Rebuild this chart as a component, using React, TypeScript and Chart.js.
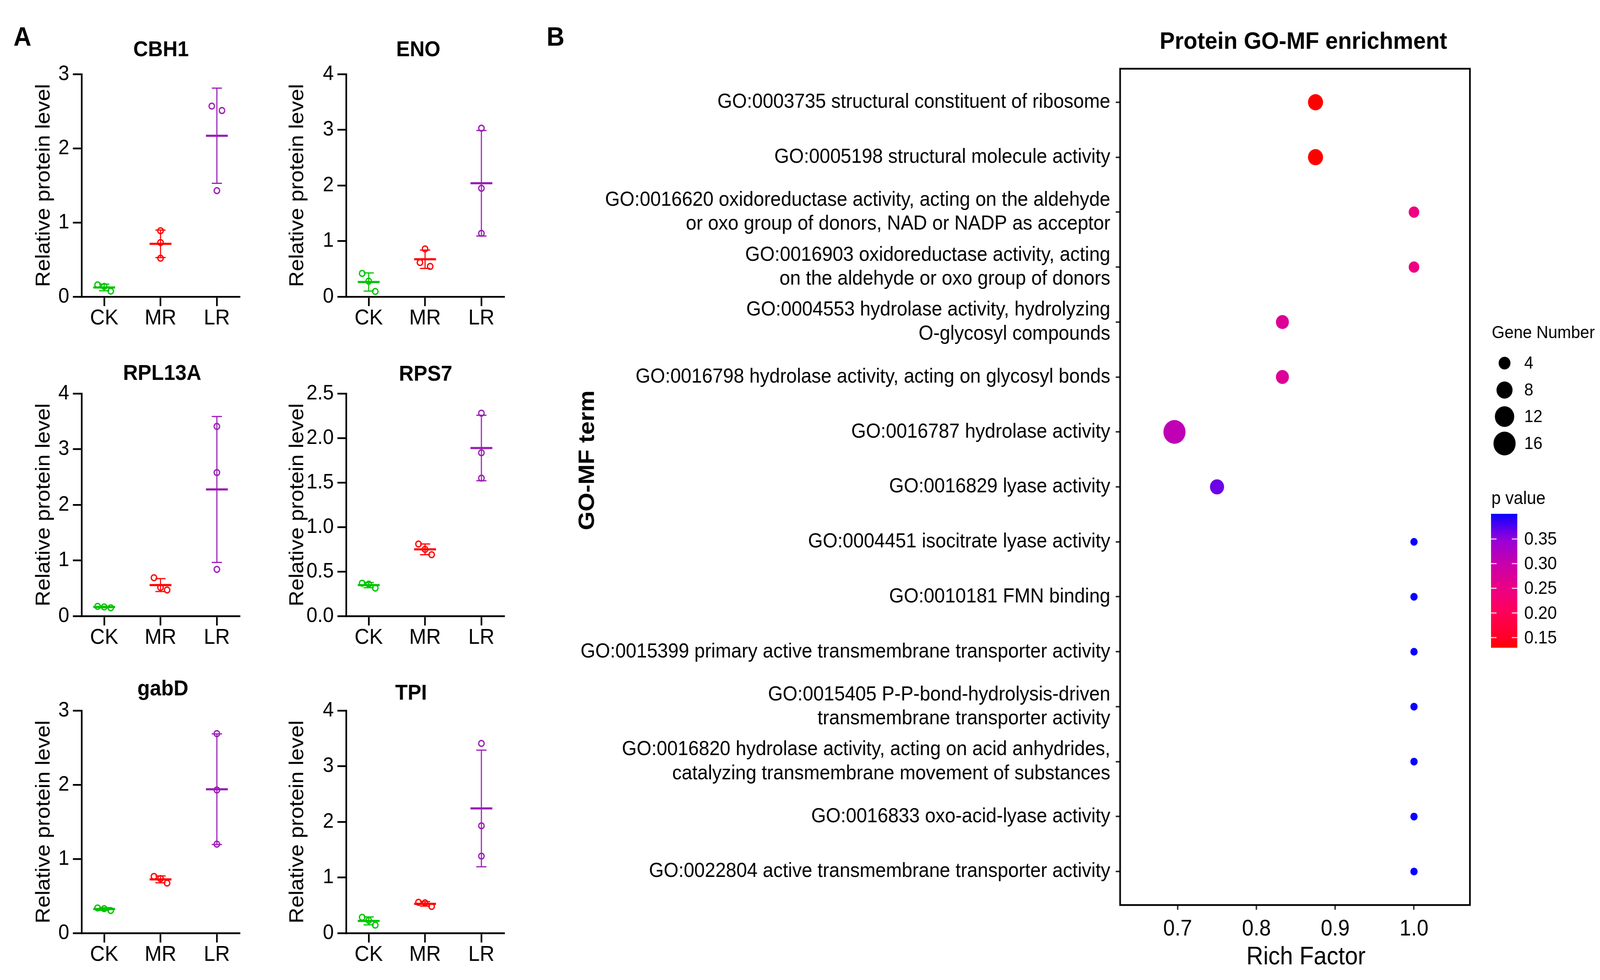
import React, { useEffect, useRef } from 'react';
import { Chart, registerables } from 'chart.js';

Chart.register(...registerables);

const FONT = '"Liberation Sans", Arial, Helvetica, sans-serif';
Chart.defaults.font.family = FONT;
Chart.defaults.color = '#000';

// ---------- panel A data ----------
const groups = ['CK', 'MR', 'LR'];
const groupColors = ['#00C400', '#FF0000', '#9A1DB5'];
const proteins = ['CBH1', 'ENO', 'RPL13A', 'RPS7', 'gabD', 'TPI'];

// three replicates per group (CK, MR, LR)
const cbh1Values = [[0.16, 0.14, 0.075], [0.89, 0.73, 0.52], [2.57, 2.51, 1.43]];
const enoValues = [[0.42, 0.28, 0.095], [0.86, 0.615, 0.545], [3.03, 1.95, 1.14]];
const rpl13aValues = [[0.175, 0.165, 0.15], [0.69, 0.515, 0.47], [3.41, 2.58, 0.84]];
const rps7Values = [[0.37, 0.36, 0.315], [0.81, 0.75, 0.69], [2.28, 1.835, 1.55]];
const gabdValues = [[0.34, 0.33, 0.305], [0.765, 0.735, 0.675], [2.69, 1.93, 1.2]];
const tpiValues = [[0.285, 0.23, 0.145], [0.555, 0.545, 0.48], [3.41, 1.93, 1.385]];
const proteinValues = [cbh1Values, enoValues, rpl13aValues, rps7Values, gabdValues, tpiValues];

const yAxisMax = [3, 4, 4, 2.5, 3, 4];
const yAxisStep = [1, 1, 1, 0.5, 1, 1];

// ---------- panel B data ----------
const goTerms = [
  ['GO:0003735 structural constituent of ribosome'],
  ['GO:0005198 structural molecule activity'],
  ['GO:0016620 oxidoreductase activity, acting on the aldehyde', 'or oxo group of donors, NAD or NADP as acceptor'],
  ['GO:0016903 oxidoreductase activity, acting', 'on the aldehyde or oxo group of donors'],
  ['GO:0004553 hydrolase activity, hydrolyzing', 'O-glycosyl compounds'],
  ['GO:0016798 hydrolase activity, acting on glycosyl bonds'],
  ['GO:0016787 hydrolase activity'],
  ['GO:0016829 lyase activity'],
  ['GO:0004451 isocitrate lyase activity'],
  ['GO:0010181 FMN binding'],
  ['GO:0015399 primary active transmembrane transporter activity'],
  ['GO:0015405 P-P-bond-hydrolysis-driven', 'transmembrane transporter activity'],
  ['GO:0016820 hydrolase activity, acting on acid anhydrides,', 'catalyzing transmembrane movement of substances'],
  ['GO:0016833 oxo-acid-lyase activity'],
  ['GO:0022804 active transmembrane transporter activity'],
];
const richFactor = [0.875, 0.875, 1, 1, 0.833, 0.833, 0.696, 0.75, 1, 1, 1, 1, 1, 1, 1];
const geneNumber = [7, 7, 3, 3, 5, 5, 16, 6, 1, 1, 1, 1, 1, 1, 1];
const pValue = [0.1295, 0.1295, 0.245, 0.245, 0.272, 0.272, 0.308, 0.365, 0.401, 0.401, 0.401, 0.401, 0.401, 0.401, 0.401];
const richTicks = [0.7, 0.8, 0.9, 1.0];
const geneBreaks = [4, 8, 12, 16];
const pBreaks = [0.15, 0.2, 0.25, 0.3, 0.35];

// colour ramp of the p value bar (red -> pink -> purple -> blue)
const rampStops: { p: number; rgb: number[] }[] = [
  { p: 0.1295, rgb: [255, 0, 0] },
  { p: 0.15, rgb: [255, 0, 40] },
  { p: 0.2, rgb: [255, 0, 88] },
  { p: 0.25, rgb: [236, 0, 132] },
  { p: 0.3, rgb: [200, 0, 172] },
  { p: 0.35, rgb: [150, 0, 220] },
  { p: 0.401, rgb: [10, 0, 255] },
];

// ---------- layout (reference pixels) ----------
const PAGE_W = 4391;
const PAGE_H = 2510;
const AREA_W = 433;
const AREA_H = 570;
const Y_AXIS_W = 230;
const X_AXIS_H = 110;
const PAD_TOP = 120;
const PAD_RIGHT = 30;
const X_MIN = 0.6;
const X_MAX = 3.4;

const plotLayout = [
  { left: 224, top: 190, titleX: 442, titleY: 129, yTitleGap: 103 },
  { left: 950, top: 190, titleX: 1148, titleY: 129, yTitleGap: 133 },
  { left: 224, top: 1008, titleX: 445, titleY: 958, yTitleGap: 103 },
  { left: 950, top: 1008, titleX: 1168, titleY: 960, yTitleGap: 133 },
  { left: 224, top: 1820, titleX: 447, titleY: 1766, yTitleGap: 103 },
  { left: 950, top: 1820, titleX: 1128, titleY: 1777, yTitleGap: 133 },
];

const B_LEFT = 1480;
const B_W = PAGE_W - B_LEFT;
const B_H = PAGE_H;
const B_AREA = { left: 3074, right: 4034, top: 176, bottom: 2318 };

// ---------- helpers ----------
function mean(v: number[]) {
  return v.reduce((a, b) => a + b, 0) / v.length;
}
function sd(v: number[]) {
  const m = mean(v);
  return Math.sqrt(v.reduce((a, b) => a + (b - m) * (b - m), 0) / (v.length - 1));
}

// spread overlapping replicates sideways like a column scatter
function spreadOffsets(vals: number[], pxPerUnit: number): number[] {
  const order = vals.map((_, i) => i).sort((a, b) => vals[b] - vals[a]);
  const offsets = new Array(vals.length).fill(0);
  let cluster: number[] = [];
  const flush = () => {
    const step = cluster.length === 2 ? 28 : 18;
    cluster.forEach((idx, k) => {
      offsets[idx] = (k - (cluster.length - 1) / 2) * step;
    });
    cluster = [];
  };
  order.forEach((idx, k) => {
    if (k > 0 && (vals[order[k - 1]] - vals[idx]) * pxPerUnit >= 30) flush();
    cluster.push(idx);
  });
  flush();
  return offsets;
}

function pColor(p: number) {
  const first = rampStops[0];
  const last = rampStops[rampStops.length - 1];
  if (p <= first.p) return `rgb(${first.rgb.join(',')})`;
  if (p >= last.p) return `rgb(${last.rgb.join(',')})`;
  for (let i = 1; i < rampStops.length; i++) {
    const a = rampStops[i - 1];
    const b = rampStops[i];
    if (p <= b.p) {
      const t = (p - a.p) / (b.p - a.p);
      const c = a.rgb.map((v, k) => Math.round(v + (b.rgb[k] - v) * t));
      return `rgb(${c.join(',')})`;
    }
  }
  return `rgb(${last.rgb.join(',')})`;
}
const P_MIN = Math.min(...pValue);
const P_MAX = Math.max(...pValue);

function geneRadius(n: number) {
  return Math.sqrt(45 + 55 * n);
}

// ---------- panel A: one scatter per protein ----------
function ProteinPlot({ index }: { index: number }) {
  const chartRef = useRef<HTMLCanvasElement>(null);
  const layout = plotLayout[index];
  const width = Y_AXIS_W + AREA_W + PAD_RIGHT;
  const height = PAD_TOP + AREA_H + X_AXIS_H;
  const canvasLeft = layout.left - Y_AXIS_W;
  const canvasTop = layout.top - PAD_TOP;

  useEffect(() => {
    if (!chartRef.current) return;
    const values = proteinValues[index];
    const yMax = yAxisMax[index];
    const step = yAxisStep[index];
    const pxPerUnit = AREA_H / yMax;
    const xUnitPx = AREA_W / (X_MAX - X_MIN);

    const datasets = values.map((vals, g) => {
      const offs = spreadOffsets(vals, pxPerUnit);
      return {
        label: groups[g],
        data: vals.map((v, k) => ({ x: g + 1 + offs[k] / xUnitPx, y: v })),
        borderColor: groupColors[g],
        backgroundColor: 'rgba(0,0,0,0)',
        pointRadius: 7.5,
        pointHoverRadius: 7.5,
        pointBorderWidth: 3.5,
        showLine: false,
        clip: false as const,
      };
    });

    const meanSdPlugin = {
      id: 'meanSd',
      beforeDatasetsDraw(chart: any) {
        const { ctx, scales } = chart;
        const xs = scales.x;
        const ys = scales.y;
        values.forEach((vals, g) => {
          const m = mean(vals);
          const s = sd(vals);
          const cx = xs.getPixelForValue(g + 1);
          const yTop = ys.getPixelForValue(m + s);
          const yBot = ys.getPixelForValue(m - s);
          const yMean = ys.getPixelForValue(m);
          ctx.save();
          ctx.strokeStyle = groupColors[g];
          ctx.lineWidth = 3;
          ctx.beginPath();
          ctx.moveTo(cx, yTop);
          ctx.lineTo(cx, yBot);
          ctx.moveTo(cx - 14, yTop);
          ctx.lineTo(cx + 14, yTop);
          ctx.moveTo(cx - 14, yBot);
          ctx.lineTo(cx + 14, yBot);
          ctx.stroke();
          ctx.lineWidth = 5.5;
          ctx.beginPath();
          ctx.moveTo(cx - 30, yMean);
          ctx.lineTo(cx + 30, yMean);
          ctx.stroke();
          ctx.restore();
        });
      },
    };

    const titlePlugin = {
      id: 'proteinTitle',
      afterDraw(chart: any) {
        const { ctx } = chart;
        ctx.save();
        ctx.font = `bold 56px ${FONT}`;
        ctx.fillStyle = '#000';
        ctx.textAlign = 'center';
        ctx.textBaseline = 'middle';
        ctx.fillText(proteins[index], layout.titleX - canvasLeft, layout.titleY - canvasTop);
        ctx.restore();
      },
    };

    const axisLine = { display: true, color: '#000', width: 4.5 };
    const tickGrid = {
      display: true,
      drawOnChartArea: false,
      drawTicks: true,
      tickLength: 24,
      color: '#000',
      lineWidth: 4.5,
    };

    const chart = new Chart(chartRef.current, {
      type: 'scatter',
      data: { datasets },
      options: {
        animation: false,
        responsive: false,
        events: [],
        layout: { padding: { left: 0, top: PAD_TOP, right: PAD_RIGHT, bottom: 0 } },
        plugins: {
          legend: { display: false },
          tooltip: { enabled: false },
          title: { display: false },
        },
        scales: {
          x: {
            type: 'linear',
            min: X_MIN,
            max: X_MAX,
            afterBuildTicks: (axis: any) => {
              axis.ticks = groups.map((_, i) => ({ value: i + 1 }));
            },
            afterFit: (axis: any) => {
              axis.height = X_AXIS_H;
            },
            ticks: {
              callback: (v: any) => groups[Math.round(Number(v)) - 1],
              font: { family: FONT, size: 56, lineHeight: 1 },
              color: '#000',
              padding: 4,
              maxRotation: 0,
              autoSkip: false,
            },
            grid: tickGrid,
            border: axisLine,
          },
          y: {
            type: 'linear',
            min: 0,
            max: yMax,
            afterFit: (axis: any) => {
              axis.width = Y_AXIS_W;
            },
            ticks: {
              stepSize: step,
              callback: (v: any) => (step < 1 ? Number(v).toFixed(1) : String(v)),
              font: { family: FONT, size: 54, lineHeight: 1.2 },
              color: '#000',
              padding: 10,
            },
            grid: tickGrid,
            border: axisLine,
            title: {
              display: true,
              text: 'Relative protein level',
              color: '#000',
              font: { family: FONT, size: 56, lineHeight: 1.2 },
              padding: { top: Y_AXIS_W - layout.yTitleGap - 33.6, bottom: 0 },
            },
          },
        },
      } as any,
      plugins: [meanSdPlugin, titlePlugin],
    });
    return () => {
      chart.destroy();
    };
  }, [index]);

  return (
    <div style={{ position: 'absolute', left: canvasLeft, top: canvasTop, width, height }}>
      <canvas ref={chartRef} width={width} height={height}></canvas>
    </div>
  );
}

// ---------- panel B: GO-MF bubble plot ----------
function EnrichmentPlot() {
  const chartRef = useRef<HTMLCanvasElement>(null);

  useEffect(() => {
    if (!chartRef.current) return;

    const decorPlugin = {
      id: 'enrichDecor',
      afterDraw(chart: any) {
        const { ctx, chartArea } = chart;
        ctx.save();
        // panel border
        ctx.strokeStyle = '#000';
        ctx.lineWidth = 4.5;
        ctx.strokeRect(chartArea.left, chartArea.top, chartArea.right - chartArea.left, chartArea.bottom - chartArea.top);

        ctx.fillStyle = '#000';
        // main title
        ctx.font = `bold 62px ${FONT}`;
        ctx.textAlign = 'center';
        ctx.textBaseline = 'middle';
        ctx.fillText('Protein GO-MF enrichment', 3577 - B_LEFT, 108);
        // x title
        ctx.font = `64px ${FONT}`;
        ctx.fillText('Rich Factor', 3584 - B_LEFT, 2452);
        // y title
        ctx.save();
        ctx.translate(1630 - B_LEFT, 1179);
        ctx.rotate(-Math.PI / 2);
        ctx.font = `bold 62px ${FONT}`;
        ctx.textAlign = 'center';
        ctx.textBaseline = 'alphabetic';
        ctx.fillText('GO-MF term', 0, 0);
        ctx.restore();

        // size legend
        ctx.textAlign = 'left';
        ctx.textBaseline = 'middle';
        ctx.font = `45px ${FONT}`;
        ctx.fillText('Gene Number', 4094 - B_LEFT, 854);
        const sizeRows = [930, 999, 1067, 1136];
        geneBreaks.forEach((n, i) => {
          ctx.beginPath();
          ctx.arc(4129 - B_LEFT, sizeRows[i], geneRadius(n), 0, Math.PI * 2);
          ctx.fill();
          ctx.fillText(String(n), 4183 - B_LEFT, sizeRows[i] + 2);
        });

        // colour bar
        ctx.font = `46px ${FONT}`;
        ctx.fillText('p value', 4093 - B_LEFT, 1278);
        const barX = 4092 - B_LEFT;
        const barW = 72;
        const barTop = 1316;
        const barBottom = 1659;
        const grad = ctx.createLinearGradient(0, barBottom, 0, barTop);
        for (let k = 0; k <= 40; k++) {
          grad.addColorStop(k / 40, pColor(P_MIN + (P_MAX - P_MIN) * (k / 40)));
        }
        ctx.fillStyle = grad;
        ctx.fillRect(barX, barTop, barW, barBottom - barTop);
        ctx.fillStyle = '#000';
        pBreaks.forEach((p) => {
          const y = barBottom - ((p - P_MIN) / (P_MAX - P_MIN)) * (barBottom - barTop);
          ctx.strokeStyle = 'rgba(255,255,255,0.9)';
          ctx.lineWidth = 2.5;
          ctx.beginPath();
          ctx.moveTo(barX, y);
          ctx.lineTo(barX + 15, y);
          ctx.moveTo(barX + barW - 15, y);
          ctx.lineTo(barX + barW, y);
          ctx.stroke();
          ctx.fillText(p.toFixed(2), 4183 - B_LEFT, y + 2);
        });
        ctx.restore();
      },
    };

    const tickGrid = {
      display: true,
      drawOnChartArea: false,
      drawTicks: true,
      tickLength: 12,
      color: '#333',
      lineWidth: 4,
    };

    const chart = new Chart(chartRef.current, {
      type: 'scatter',
      data: {
        datasets: [
          {
            label: 'GO-MF',
            data: richFactor.map((x, i) => ({ x, y: i + 1 })),
            pointRadius: geneNumber.map(geneRadius),
            pointHoverRadius: geneNumber.map(geneRadius),
            pointBackgroundColor: pValue.map(pColor),
            pointBorderWidth: 0,
            showLine: false,
          },
        ],
      },
      options: {
        animation: false,
        responsive: false,
        events: [],
        layout: {
          padding: {
            left: 0,
            top: B_AREA.top,
            right: B_W - (B_AREA.right - B_LEFT),
            bottom: 0,
          },
        },
        plugins: {
          legend: { display: false },
          tooltip: { enabled: false },
          title: { display: false },
        },
        scales: {
          x: {
            type: 'linear',
            min: 0.627,
            max: 1.071,
            afterBuildTicks: (axis: any) => {
              axis.ticks = richTicks.map((v) => ({ value: v }));
            },
            afterFit: (axis: any) => {
              axis.height = B_H - B_AREA.bottom;
            },
            ticks: {
              callback: (v: any) => Number(v).toFixed(1),
              font: { family: FONT, size: 57, lineHeight: 1.2 },
              color: '#000',
              padding: 16,
              maxRotation: 0,
              autoSkip: false,
            },
            grid: tickGrid,
            border: { display: false },
          },
          y: {
            type: 'linear',
            reverse: true,
            min: 0.39,
            max: 15.61,
            afterBuildTicks: (axis: any) => {
              axis.ticks = goTerms.map((_, i) => ({ value: i + 1 }));
            },
            afterFit: (axis: any) => {
              axis.width = B_AREA.left - B_LEFT;
            },
            ticks: {
              callback: (v: any) => goTerms[Math.round(Number(v)) - 1],
              font: { family: FONT, size: 52, lineHeight: 1.18 },
              color: '#000',
              padding: 15,
              autoSkip: false,
            },
            grid: tickGrid,
            border: { display: false },
          },
        },
      } as any,
      plugins: [decorPlugin],
    });
    return () => {
      chart.destroy();
    };
  }, []);

  return (
    <div style={{ position: 'absolute', left: B_LEFT, top: 0, width: B_W, height: B_H }}>
      <canvas ref={chartRef} width={B_W} height={B_H}></canvas>
    </div>
  );
}

const panelLabel: React.CSSProperties = {
  position: 'absolute',
  fontFamily: FONT,
  fontWeight: 'bold',
  fontSize: 68,
  lineHeight: '68px',
  color: '#000',
};

export default function App() {
  // the figure is laid out in reference pixels and fitted to whatever viewport we get
  const vw = window.innerWidth || PAGE_W;
  const vh = window.innerHeight || PAGE_H;
  const sx = vw / PAGE_W;
  const sy = vh / PAGE_H;

  return (
    <div
      style={{
        position: 'absolute',
        left: 0,
        top: 0,
        width: vw,
        height: vh,
        background: '#fff',
        overflow: 'hidden',
      }}
    >
      <div
        style={{
          position: 'absolute',
          left: 0,
          top: 0,
          width: PAGE_W,
          height: PAGE_H,
          transform: `scale(${sx}, ${sy})`,
          transformOrigin: '0 0',
        }}
      >
        <div style={{ ...panelLabel, left: 37, top: 59 }}>A</div>
        <div style={{ ...panelLabel, left: 1500, top: 59 }}>B</div>
        {proteins.map((_, i) => (
          <ProteinPlot key={i} index={i} />
        ))}
        <EnrichmentPlot />
      </div>
    </div>
  );
}
